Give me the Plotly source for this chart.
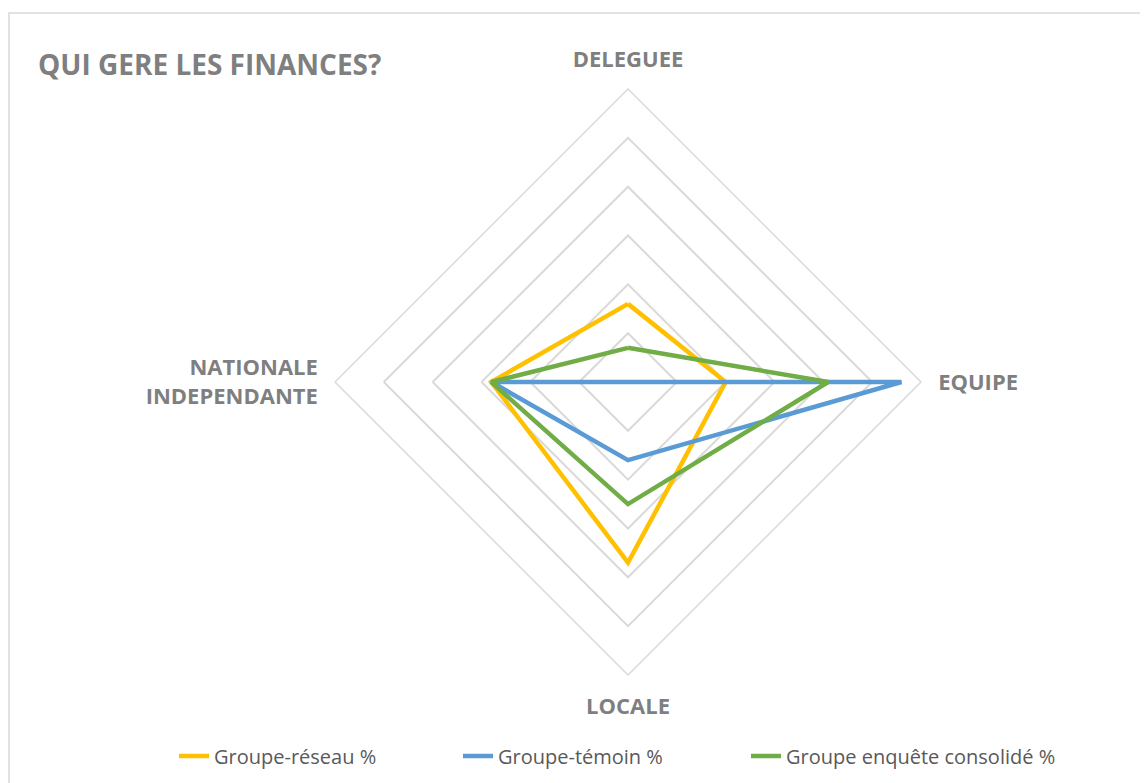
import plotly.graph_objects as go

# axes of the radar, clockwise from the top
categories = ["DELEGUEE", "EQUIPE", "LOCALE", "NATIONALE<br>INDEPENDANTE"]

# values in %
reseau = [16, 20, 37, 28]
temoin = [0, 56, 16, 28]
consolide = [7, 41, 25, 28]

series_names = ["Groupe-réseau %", "Groupe-témoin %", "Groupe enquête consolidé %"]
series_colors = ["#FFC000", "#5B9BD5", "#70AD47"]

W, H = 1148, 783
OFF = 8  # the page body adds 8px around the plot
cx, cy, R = 628 - OFF, 382 - OFF, 293

# one legend per series so each entry sits where it does in the original
legend_ids = ["legend", "legend2", "legend3"]
legend_x = [166, 450, 738]

fig = go.Figure()

for name, vals, col, lg in zip(series_names, [reseau, temoin, consolide], series_colors, legend_ids):
    fig.add_trace(go.Scatterpolar(
        r=vals + vals[:1],
        theta=categories + categories[:1],
        mode="lines",
        name=name,
        legend=lg,
        showlegend=True,
        line=dict(color=col, width=4.5),
    ))

legends = {}
for lg, lx in zip(legend_ids, legend_x):
    legends[lg] = dict(
        orientation="h", x=lx / W, xanchor="left", y=1 - 748 / H, yanchor="middle",
        font=dict(size=20, color="#595959"), bgcolor="rgba(0,0,0,0)",
    )

fig.update_layout(
    width=W, height=H,
    margin=dict(l=0, r=0, t=0, b=0),
    paper_bgcolor="white",
    showlegend=True,
    font=dict(family="Open Sans", color="#595959"),
    title=dict(
        text="<b>QUI GERE LES FINANCES?</b>",
        x=30 / W, xanchor="left", xref="paper",
        y=1 - 57 / H, yanchor="middle", yref="paper",
        font=dict(size=28, color="#7f7f7f"),
    ),
    polar=dict(
        domain=dict(x=[(cx - R) / W, (cx + R) / W], y=[1 - (cy + R) / H, 1 - (cy - R) / H]),
        bgcolor="white",
        gridshape="linear",
        radialaxis=dict(
            range=[0, 60], dtick=10, showticklabels=False, ticks="",
            showline=False, gridcolor="#d9d9d9", gridwidth=1.5,
        ),
        angularaxis=dict(
            rotation=90, direction="clockwise", showgrid=False,
            ticks="outside", ticklen=12, tickcolor="rgba(0,0,0,0)",
            linecolor="#d9d9d9", linewidth=1.5,
            tickfont=dict(size=22, color="#7f7f7f", weight="bold"),
        ),
    ),
    shapes=[dict(
        type="rect", xref="paper", yref="paper",
        x0=1 / W, x1=1.01, y0=-0.01, y1=1 - 5 / H,
        line=dict(color="#d9d9d9", width=1.5), layer="below",
    )],
    **legends,
)

fig.write_html("out.html")
